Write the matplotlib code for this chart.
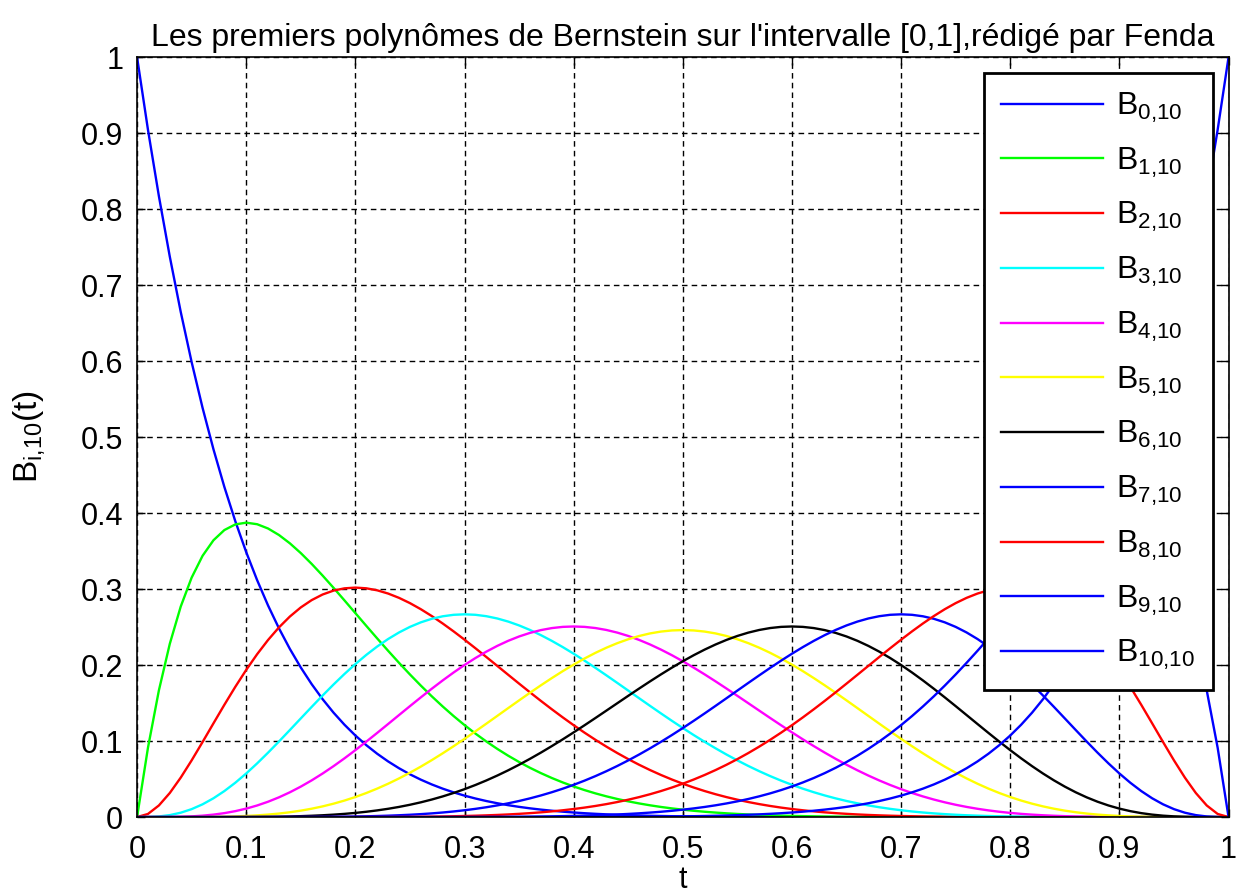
import numpy as np
import matplotlib.pyplot as plt
from math import comb

plt.rcParams['font.family'] = ['Liberation Sans', 'DejaVu Sans']
plt.rcParams['mathtext.fontset'] = 'custom'
plt.rcParams['mathtext.rm'] = 'Liberation Sans'
plt.rcParams['mathtext.it'] = 'Liberation Sans'

# degree and sample points of the curves (t = 0:0.01:1)
degree = 10
t = np.linspace(0, 1, 101)
indices = list(range(degree + 1))
colors = ['#0000ff', '#00ff00', '#ff0000', '#00ffff', '#ff00ff', '#ffff00',
          '#000000', '#0000ff', '#ff0000', '#0000ff', '#0000ff']
labels = [r'$\mathregular{B_{%d{,}10}}$' % i for i in indices]
ticks = [0, 0.1, 0.2, 0.3, 0.4, 0.5, 0.6, 0.7, 0.8, 0.9, 1]
tick_labels = ['0', '0.1', '0.2', '0.3', '0.4', '0.5', '0.6', '0.7', '0.8', '0.9', '1']

fig = plt.figure(figsize=(12.46, 8.93), dpi=100)
ax = fig.add_axes([0.110, 0.085, 0.876, 0.851])

for i in indices:
    b = comb(degree, i) * t**i * (1 - t)**(degree - i)
    ax.plot(t, b, color=colors[i], lw=1.7, label=labels[i])

ax.set_xlim(0, 1)
ax.set_ylim(0, 1)
ax.set_xticks(ticks, tick_labels)
ax.set_yticks(ticks, tick_labels)
ax.tick_params(axis='x', pad=13)
ax.tick_params(direction='in', top=True, right=True, labelsize=22, length=6, width=1)
ax.tick_params(axis='y', pad=10)
ax.grid(True, color='black', linestyle=(0, (4, 3)), linewidth=1)
for s in ax.spines.values():
    s.set_linewidth(1.2)

ax.set_title("Les premiers polynômes de Bernstein sur l'intervalle [0,1],rédigé par Fenda",
             fontsize=23, pad=8)
ax.set_xlabel('t', fontsize=22, labelpad=0)
ax.set_ylabel(r'$\mathregular{B_{i{,}10}(t)}$', fontsize=24, labelpad=24)

leg = ax.legend(loc='upper right', fontsize=23, frameon=True, fancybox=False,
                edgecolor='black', framealpha=1, handlelength=3.2, handletextpad=0.4,
                labelspacing=0.64, borderpad=0.55, borderaxespad=0.5)
leg.get_frame().set_linewidth(2)

fig.savefig('out.png', dpi=100)
